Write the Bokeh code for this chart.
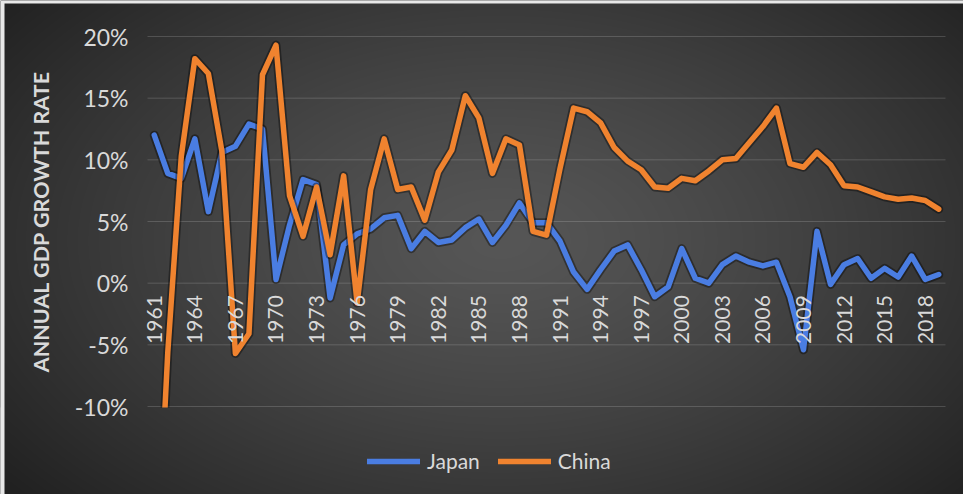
import numpy as np
from bokeh.plotting import figure
from bokeh.models import Range1d, FixedTicker, PrintfTickFormatter, Legend, LegendItem
from bokeh.embed import file_html
from bokeh.resources import INLINE

# ---------------- data ----------------
years = list(range(1961, 2020))
japan = [12.0, 8.9, 8.5, 11.7, 5.8, 10.6, 11.1, 12.9, 12.5, 0.3,
         4.7, 8.4, 8.0, -1.2, 3.1, 4.0, 4.4, 5.3, 5.5, 2.8,
         4.2, 3.3, 3.5, 4.5, 5.2, 3.3, 4.7, 6.5, 4.9, 4.9,
         3.4, 0.9, -0.5, 1.1, 2.6, 3.1, 1.1, -1.1, -0.3, 2.8,
         0.4, 0.0, 1.5, 2.2, 1.7, 1.4, 1.7, -1.1, -5.4, 4.2,
         -0.1, 1.5, 2.0, 0.4, 1.2, 0.5, 2.2, 0.3, 0.7]
china = [-27.3, -5.6, 10.3, 18.2, 17.0, 10.7, -5.7, -4.1, 16.9, 19.3,
         7.1, 3.8, 7.8, 2.3, 8.7, -1.6, 7.6, 11.7, 7.6, 7.8,
         5.1, 9.0, 10.8, 15.2, 13.4, 8.9, 11.7, 11.2, 4.2, 3.9,
         9.3, 14.2, 13.9, 13.0, 11.0, 9.9, 9.2, 7.8, 7.7, 8.5,
         8.3, 9.1, 10.0, 10.1, 11.4, 12.7, 14.2, 9.7, 9.4, 10.6,
         9.6, 7.9, 7.8, 7.4, 7.0, 6.8, 6.9, 6.7, 6.0]
x_tick_years = list(range(1961, 2019, 3))
y_ticks = [-10, -5, 0, 5, 10, 15, 20]
series_names = ["Japan", "China"]
y_title = "ANNUAL GDP GROWTH RATE"

# ---------------- layout ----------------
W, H = 963, 494
PL, PR, PT, PB = 147, 945, 36, 406          # plot area in pixels
Y_MIN, Y_MAX = y_ticks[0], y_ticks[-1]
X_MIN, X_MAX = years[0] - 0.5, years[-1] + 0.5
xpp = (X_MAX - X_MIN) / (PR - PL)
ypp = (Y_MAX - Y_MIN) / (PB - PT)
x_start, x_end = X_MIN - PL * xpp, X_MAX + (W - PR) * xpp
y_start, y_end = Y_MIN - (H - PB) * ypp, Y_MAX + PT * ypp

BLUE = "#4a7de2"
ORANGE = "#f0832f"
TXT = "#d9d9d9"
FONT = "Lato"

p = figure(width=W, height=H, x_range=Range1d(x_start, x_end),
           y_range=Range1d(y_start, y_end), output_backend="svg",
           toolbar_location=None, min_border=0, outline_line_color=None,
           background_fill_color="#2a2a2a", border_fill_color="#2a2a2a")
p.min_border_left = p.min_border_right = p.min_border_top = p.min_border_bottom = 0

# radial dark gradient background (chart style)
yy, xx = np.mgrid[0:H, 0:W]
r = np.sqrt(((xx - 500) / 640.0) ** 2 + ((yy - 240) / 390.0) ** 2)
c = 86 - (86 - 33) * np.clip(r, 0, 1) ** 1.3
img = np.empty((H, W), dtype=np.uint32)
v = img.view(dtype=np.uint8).reshape((H, W, 4))
v[..., 0] = c; v[..., 1] = c; v[..., 2] = c; v[..., 3] = 255
v[:, :4, :3] = 232
v[:3, :, :3] = 232
img = img[::-1].copy()
p.image_rgba(image=[img], x=x_start, y=y_start, dw=x_end - x_start, dh=y_end - y_start)

# gridlines
n = len(y_ticks)
p.segment(x0=[X_MIN] * n, x1=[X_MAX] * n, y0=y_ticks, y1=y_ticks,
          line_color="white", line_alpha=0.16, line_width=1)

# series
renderers = []
for vals, col in ((japan, BLUE), (china, ORANGE)):
    p.line(years, vals, line_color="black", line_alpha=0.38, line_width=9,
           line_join="round", line_cap="round")
    renderers.append(p.line(years, vals, line_color=col, line_width=5.5,
                            line_join="round", line_cap="round"))

# plot-area clip below the axis minimum: repaint the background there
rows = H - PB - 1
p.image_rgba(image=[img[:rows].copy()], x=x_start, y=y_start,
             dw=x_end - x_start, dh=rows * ypp)

# axes
p.xgrid.visible = False
p.ygrid.visible = False
xa = p.xaxis[0]
xa.fixed_location = 0
xa.ticker = FixedTicker(ticks=x_tick_years)
xa.major_label_orientation = np.pi / 2
xa.axis_line_color = None
xa.major_tick_line_color = None
xa.minor_tick_line_color = None
xa.major_tick_out = 0
xa.major_tick_in = 0
xa.major_label_standoff = 12
xa.major_label_text_font = FONT
xa.major_label_text_font_size = "21px"
xa.major_label_text_color = TXT

ya = p.yaxis[0]
ya.fixed_location = X_MIN
ya.bounds = (Y_MIN, Y_MAX)
ya.ticker = FixedTicker(ticks=y_ticks)
ya.formatter = PrintfTickFormatter(format="%d%%")
ya.axis_line_color = None
ya.major_tick_line_color = None
ya.minor_tick_line_color = None
ya.major_tick_out = 0
ya.major_tick_in = 0
ya.major_label_standoff = 19
ya.major_label_text_font = FONT
ya.major_label_text_font_size = "23px"
ya.major_label_text_color = TXT
ya.axis_label = y_title
ya.axis_label_text_font = FONT
ya.axis_label_text_font_style = "bold"
ya.axis_label_text_font_size = "21.5px"
ya.axis_label_text_color = TXT
ya.axis_label_standoff = 18

legend = Legend(items=[LegendItem(label=series_names[i], renderers=[renderers[i]]) for i in range(2)],
                orientation="horizontal", location=(367, 21), glyph_width=53, glyph_height=20,
                label_standoff=7, spacing=18, padding=0, margin=0,
                background_fill_alpha=0, border_line_color=None,
                label_text_font=FONT, label_text_font_size="21px", label_text_color=TXT)
p.add_layout(legend)

open("out.html", "w").write(file_html(p, INLINE))
